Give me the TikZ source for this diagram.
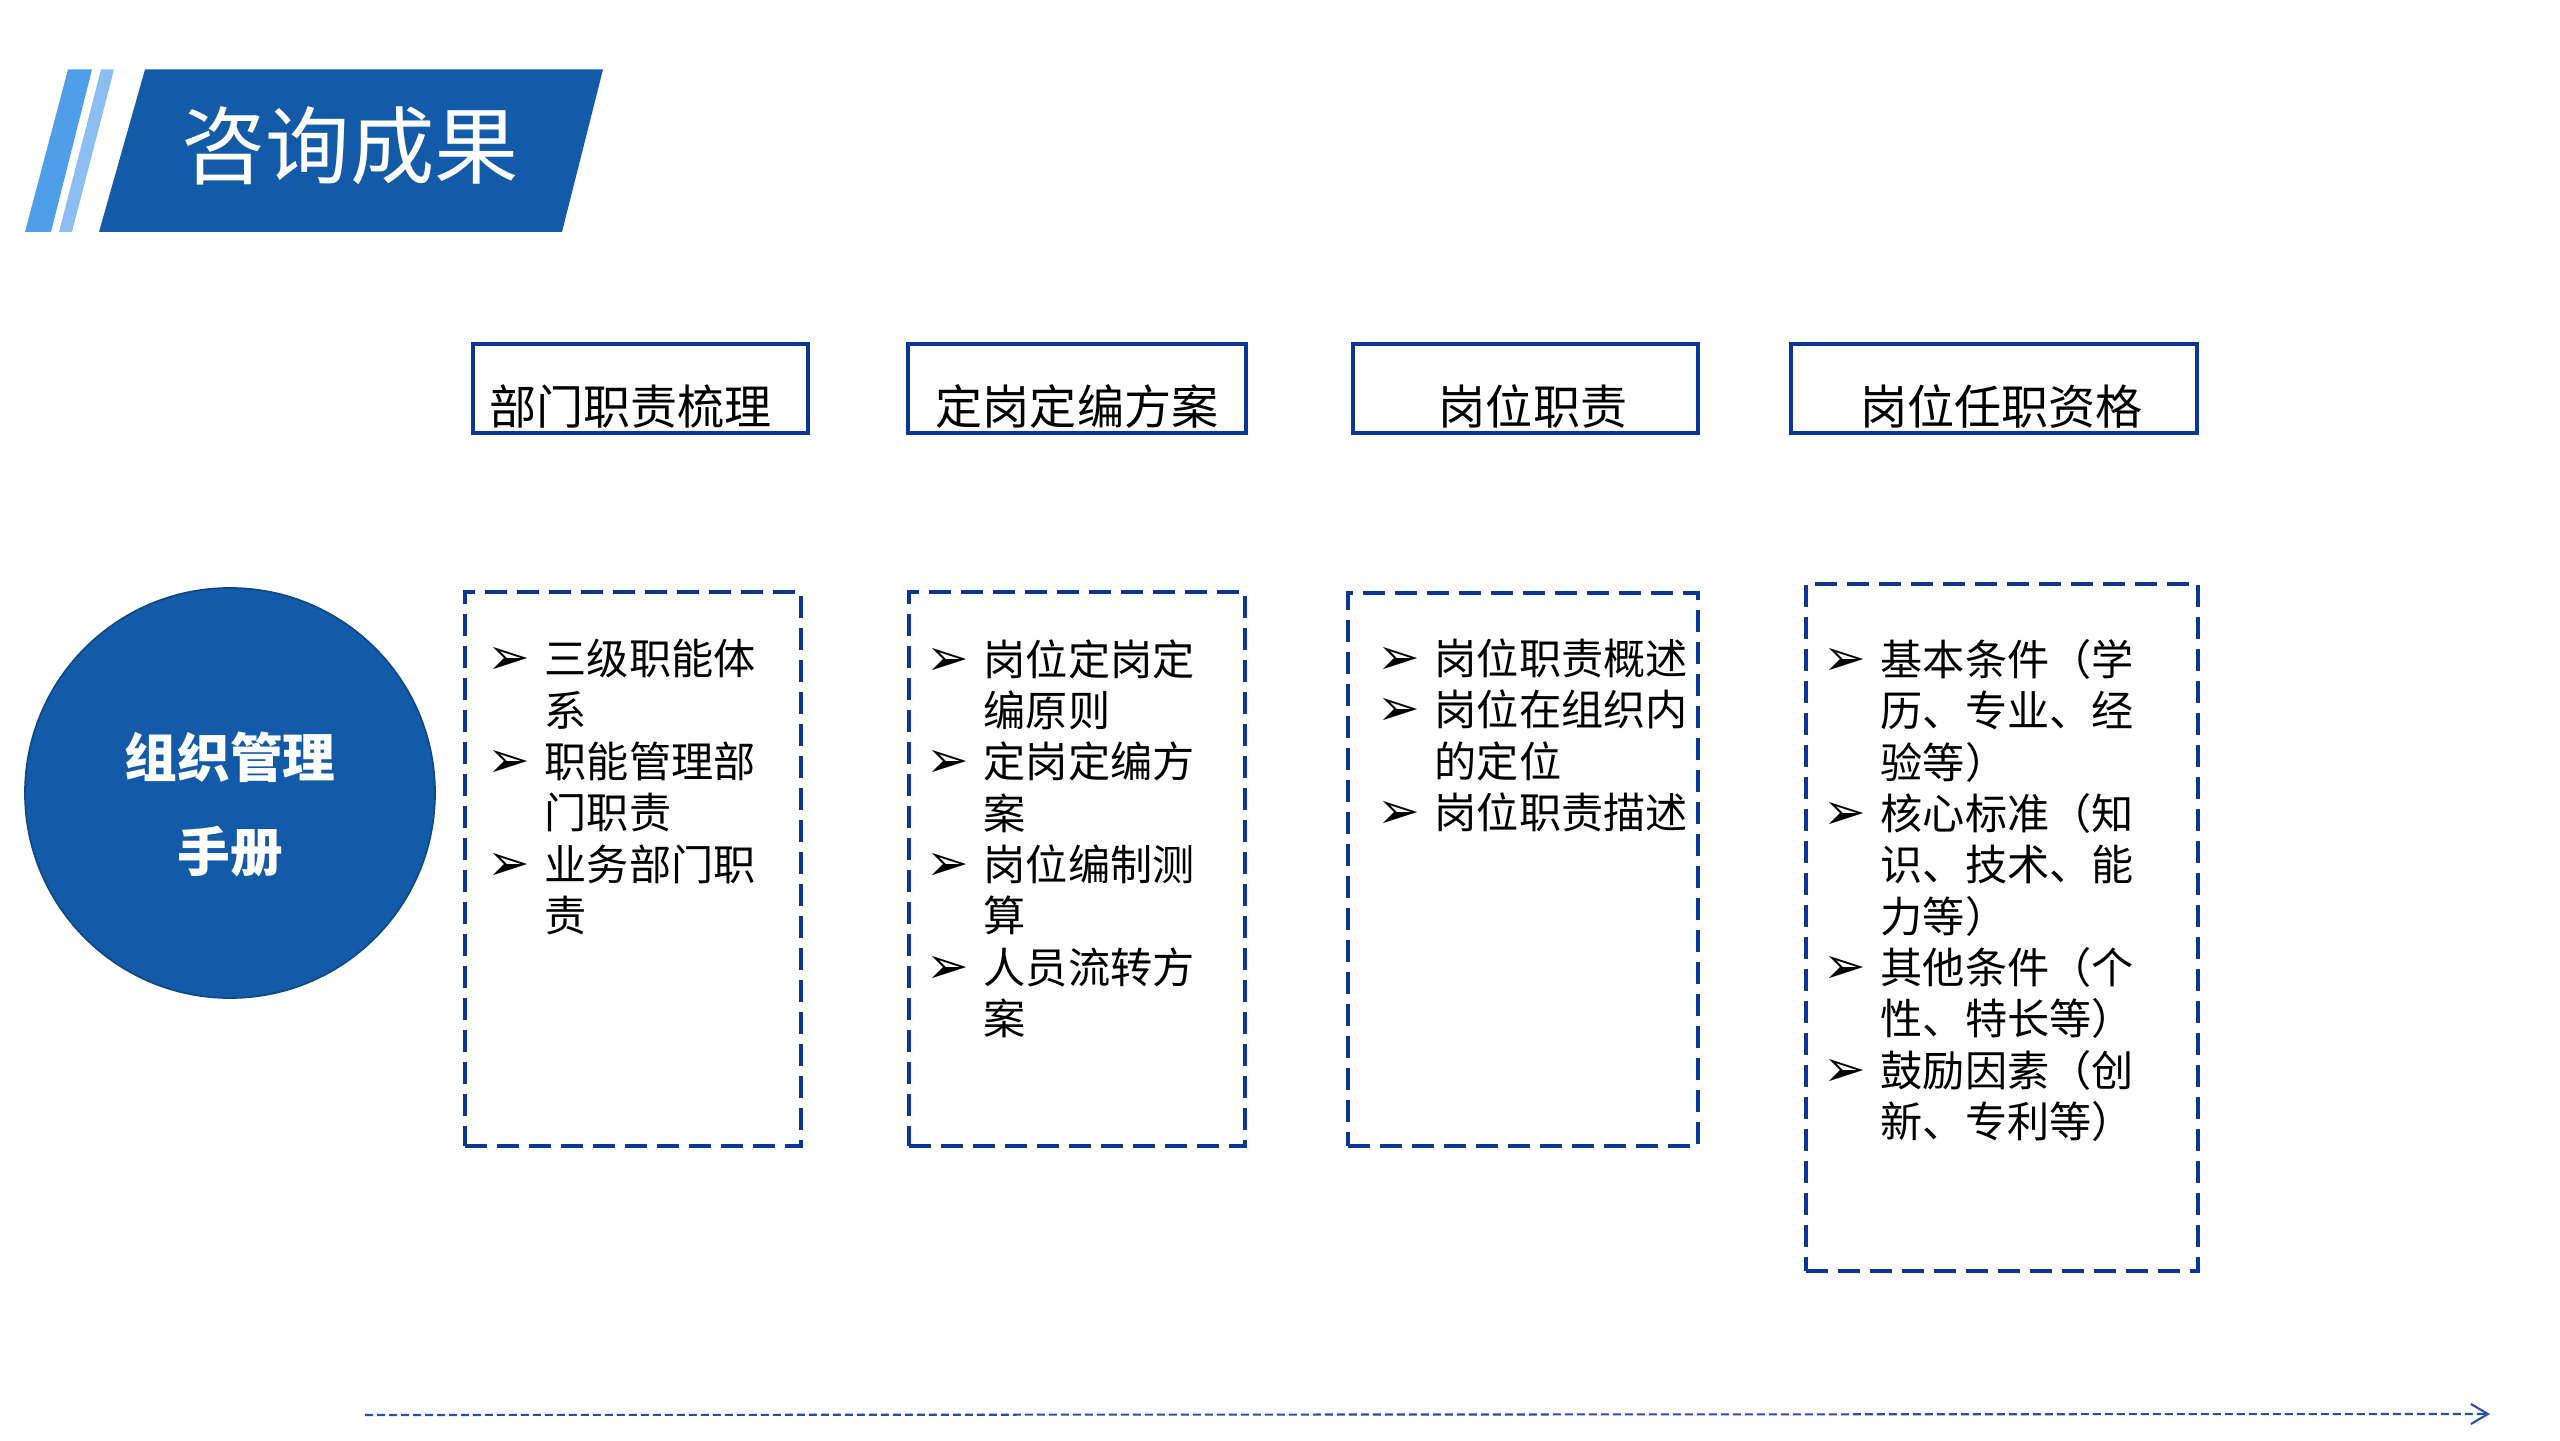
\documentclass[tikz,border=0pt]{standalone}
\usepackage{xcolor}
\usepackage{fontspec}
\setmainfont{Noto Sans CJK SC}
\newfontfamily\symfont{DejaVu Sans}
\usepackage{tikz}
\usetikzlibrary{positioning,arrows.meta}

\definecolor{deepblue}{RGB}{19,91,169}
\definecolor{lineblue}{RGB}{10,54,151}
\definecolor{stripeA}{RGB}{79,158,234}
\definecolor{stripeB}{RGB}{141,190,243}
\definecolor{arrowblue}{RGB}{43,77,168}

\newcommand{\bul}{\makebox[0.57cm][l]{\symfont\fontsize{14.5pt}{12pt}\selectfont ➢}}
\newcommand{\ind}{\hspace*{0.57cm}}

\begin{document}
\begin{tikzpicture}[
  headbox/.style={draw=lineblue, line width=1pt, minimum height=0.89cm, inner sep=0pt,
    font=\fontsize{13.4pt}{16pt}\selectfont, text height=0.78cm, text depth=0.05cm},
  listbox/.style={draw=lineblue, line width=0.9pt, dash pattern=on 0.22cm off 0.10cm, inner sep=0pt},
  itemlist/.style={anchor=base west, align=left, inner sep=0pt, font=\fontsize{12pt}{14.6pt}\selectfont}
]
\useasboundingbox (0,0) rectangle (25.6,14.4);

% title banner
\fill[stripeA] (0.25,12.08) -- (0.51,12.08) -- (0.92,13.705) -- (0.68,13.705) -- cycle;
\fill[stripeB] (0.59,12.08) -- (0.72,12.08) -- (1.14,13.705) -- (1.01,13.705) -- cycle;
\fill[deepblue] (0.99,12.08) -- (5.62,12.08) -- (6.03,13.705) -- (1.45,13.705) -- cycle;
\node[text=white, font=\fontsize{24pt}{28pt}\selectfont] (title) at (3.50,12.94) {咨询成果};

% manual
\node[circle, fill=deepblue, draw=deepblue!80!black, line width=0.5pt, minimum size=4.1cm,
  inner sep=0pt, text=white, align=center, font=\bfseries\fontsize{15pt}{26.8pt}\selectfont]
  (manual) at (2.30,6.47) {\rule{0pt}{0.68cm}组织管理\\手册};

% column heads
\node[headbox, minimum width=3.35cm] (head_1) at (6.405,10.515) {部门职责梳理\kern0.2cm};
\node[headbox, minimum width=3.38cm] (head_2) at (10.77,10.515) {定岗定编方案};
\node[headbox, minimum width=3.45cm] (head_3) at (15.255,10.515) {\kern0.15cm岗位职责};
\node[headbox, minimum width=4.06cm] (head_4) at (19.94,10.515) {\kern0.15cm岗位任职资格};

% dashed boxes
\node[listbox, minimum width=3.36cm, minimum height=5.54cm] (list_1) at (6.33,5.71) {};
\node[listbox, minimum width=3.36cm, minimum height=5.54cm] (list_2) at (10.77,5.71) {};
\node[listbox, minimum width=3.50cm, minimum height=5.53cm] (list_3) at (15.23,5.705) {};
\node[listbox, minimum width=3.92cm, minimum height=6.87cm] (list_4) at (20.02,5.125) {};

% items (anchored at the last line)
\node[itemlist] (items_1) at (4.87,5.085) {\bul 三级职能体\\
\ind 系\\
\bul 职能管理部\\
\ind 门职责\\
\bul 业务部门职\\
\ind 责};
\node[itemlist] (items_2) at (9.26,4.055) {\bul 岗位定岗定\\
\ind 编原则\\
\bul 定岗定编方\\
\ind 案\\
\bul 岗位编制测\\
\ind 算\\
\bul 人员流转方\\
\ind 案};
\node[itemlist] (items_3) at (13.77,6.115) {\bul 岗位职责概述\\
\bul 岗位在组织内\\
\ind 的定位\\
\bul 岗位职责描述};
\node[itemlist] (items_4) at (18.23,3.025) {\bul 基本条件（学\\
\ind 历、专业、经\\
\ind 验等）\\
\bul 核心标准（知\\
\ind 识、技术、能\\
\ind 力等）\\
\bul 其他条件（个\\
\ind 性、特长等）\\
\bul 鼓励因素（创\\
\ind 新、专利等）};

% time line
\coordinate (line_start) at (3.65,0.25);
\coordinate (line_end) at (24.90,0.26);
\draw[arrowblue, line width=0.6pt, dash pattern=on 0.08cm off 0.04cm,
  -{Straight Barb[length=0.17cm, width=0.20cm]}] (line_start) -- (line_end);

\end{tikzpicture}
\end{document}
